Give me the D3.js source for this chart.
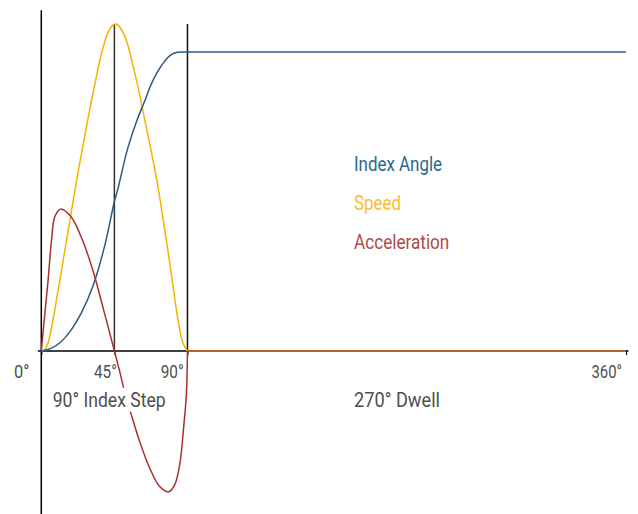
<!DOCTYPE html>
<html>
<head>
<meta charset="utf-8">
<script src="https://cdn.jsdelivr.net/npm/d3@7"></script>
<style>
  html, body { margin: 0; padding: 0; background: #fff; }
  svg { display: block; }
  text { font-family: "Roboto", "Liberation Sans", sans-serif; }
</style>
</head>
<body>
<svg id="chart" width="638" height="514"></svg>
<script>
// ---- data (cam rotation in degrees, value) ----
const indexAngleX = [0, 6.0, 12.2, 18.3, 24.5, 31.7, 38.9, 45, 47.0, 53.2, 59.3, 63.5, 67.5, 71.6, 75.8, 79.8, 83.9, 90, 360];
const indexAngleY = [0, 0.8, 2.8, 6.3, 11.3, 19.4, 31.4, 45, 48.5, 61.0, 70.0, 75.0, 80.1, 84.1, 87.1, 89.1, 89.9, 90, 90];

const speedX = [0, 2.0, 4.1, 7.2, 10.4, 13.5, 16.6, 19.7, 22.9, 26.3, 30.0, 33.4, 35.8, 38.3, 40.1, 42.0, 43.8, 45.5,
                47.4, 49.3, 51.2, 53.1, 55.2, 57.7, 60.2, 62.6, 66.3, 71.1, 74.6, 77.9, 81.0, 84.2, 87.2, 90, 360];
const speedY = [0, 0.3, 2.4, 9.3, 18.4, 27.4, 36.4, 45.5, 54.5, 63.5, 73.1, 81.3, 87.0, 91.8, 94.7, 96.7, 98.0, 98.4,
                98.0, 96.7, 95.0, 92.4, 88.5, 83.4, 78.0, 72.2, 63.5, 51.5, 40.9, 30.4, 19.9, 9.3, 2.4, 0, 0];

const accelX = [0, 2.2, 4.2, 6.3, 8.3, 11.8, 18.3, 24.5, 31.7, 38.9, 45, 48.3, 51.3, 55.5, 60.6, 66.7, 72.9, 78.4, 82.1, 85.2, 87.6, 89.3, 90, 360];
const accelY = [0, 11.3, 21.4, 33.4, 40.4, 42.7, 40.4, 34.4, 24.4, 11.4, 0, -6.2, -12.3, -19.3, -27.3, -35.2, -40.8, -42.4, -40.3, -34.3, -23.2, -13.2, 0, 0];

const tickValues = [0, 45, 90, 360];
const tickLabels = ["0°", "45°", "90°", "360°"];
const markerAngles = [45, 90];           // vertical guide lines
const legendLabels = ["Index Angle", "Speed", "Acceleration"];
const phaseLabels = ["90° Index Step", "270° Dwell"];
const indexStep = 90;

// ---- styles ----
const seriesColors = ["#2b5a83", "#f5b400", "#a8302f"];
const legendColors = ["#276a8c", "#f9bd2e", "#b0484a"];
const textColor = "#4f4f4f";
// condensed look: widths of the texts in the reference
const textWidths = {
  "0°": 15.4, "45°": 23, "90°": 23, "360°": 30.6,
  "90° Index Step": 113, "270° Dwell": 86,
  "Index Angle": 88, "Speed": 47, "Acceleration": 95.3
};
const condense = sel => sel.each(function() {
  const w = textWidths[this.textContent];
  if (w) d3.select(this).attr("textLength", w).attr("lengthAdjust", "spacingAndGlyphs");
});

const svg = d3.select("#chart");
const x = d3.scaleLinear().domain([0, 360]).range([41.3, 626]);
const y = d3.scaleLinear().domain([0, 90]).range([351, 52]);

const zip = (xs, ys) => xs.map((d, i) => [d, ys[i]]);
const curveLine = d3.line().x(d => x(d[0])).y(d => y(d[1])).curve(d3.curveCatmullRom.alpha(0.5));
const straightLine = d3.line().x(d => x(d[0])).y(d => y(d[1]));

// x axis
const axis = d3.axisBottom(x).tickValues(tickValues).tickSize(4)
  .tickFormat((d, i) => tickLabels[i]);
const gAxis = svg.append("g").attr("transform", `translate(0,${y(0)})`).call(axis);
gAxis.select(".domain").remove();
gAxis.selectAll(".tick line").attr("stroke", "#000").attr("stroke-width", 1.2);
const labelDx = {0: -27.9, 45: -21, 90: -27.3, 360: -35};
gAxis.selectAll(".tick text")
  .attr("text-anchor", "start")
  .attr("x", d => labelDx[d])
  .attr("y", 26.5).attr("dy", 0)
  .attr("fill", textColor)
  .style("font-size", "17.5px")
  .call(condense);
gAxis.append("line")
  .attr("x1", x(-2.1)).attr("x2", x(361.5))
  .attr("stroke", "#000").attr("stroke-width", 1.5);

// left vertical line (0°)
svg.append("line")
  .attr("x1", x(0)).attr("x2", x(0))
  .attr("y1", y(102.6)).attr("y2", 514)
  .attr("stroke", "#000").attr("stroke-width", 1.5);

// guide lines at 45° and 90°
svg.selectAll(".guide").data(markerAngles).enter().append("line")
  .attr("class", "guide")
  .attr("x1", d => x(d)).attr("x2", d => x(d))
  .attr("y1", y(98.4)).attr("y2", y(0))
  .attr("stroke", (d, i) => i === 0 ? "#333" : "#111").attr("stroke-width", 1.5);

// series: smooth during the index step, straight during the dwell
const series = [zip(indexAngleX, indexAngleY), zip(speedX, speedY), zip(accelX, accelY)];
const order = [1, 0, 2];
order.forEach(i => {
  const g = svg.append("g").attr("fill", "none").attr("stroke", seriesColors[i])
    .attr("stroke-width", 1.5).attr("stroke-linejoin", "round");
  g.append("path").datum(series[i].filter(d => d[0] <= indexStep)).attr("d", curveLine);
  g.append("path").datum(series[i].filter(d => d[0] >= indexStep)).attr("d", straightLine)
    .attr("stroke-opacity", i === 2 ? 0.7 : 1);
});

// phase labels (index-step label sits on a white box over the curve)
const stepLabel = svg.append("text").text(phaseLabels[0])
  .attr("x", 52.7).attr("y", 406.7)
  .attr("fill", textColor).style("font-size", "20px")
  .call(condense);
const bb = stepLabel.node().getBBox();
svg.insert("rect", function() { return stepLabel.node(); })
  .attr("x", bb.x).attr("y", bb.y).attr("width", bb.width).attr("height", bb.height)
  .attr("fill", "#fff");
svg.append("text").text(phaseLabels[1])
  .attr("x", 354).attr("y", 406.7)
  .attr("fill", textColor).style("font-size", "20px")
  .call(condense);

// legend
svg.selectAll(".legend").data(legendLabels).enter().append("text")
  .attr("class", "legend")
  .attr("x", 354).attr("y", (d, i) => 170.7 + i * 38.9)
  .attr("fill", (d, i) => legendColors[i])
  .style("font-size", "20px")
  .text(d => d)
  .call(condense);
</script>
</body>
</html>
